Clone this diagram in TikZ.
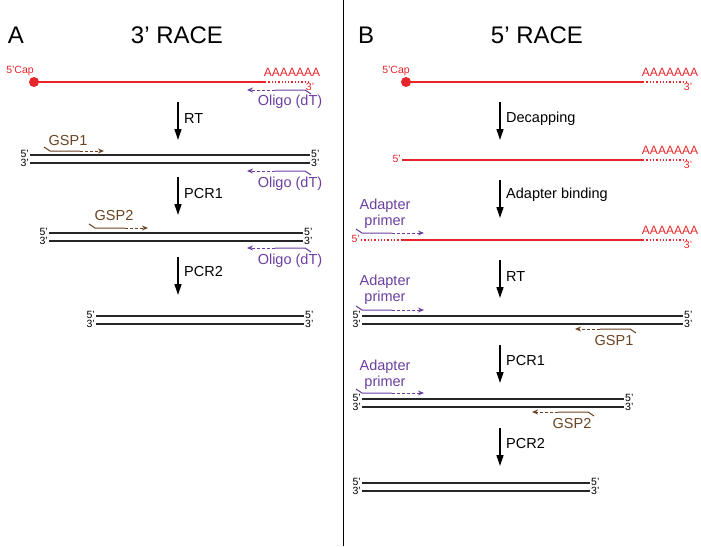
\documentclass[tikz,border=0pt]{standalone}
\usepackage{fontspec}
\setmainfont{Liberation Sans}
\usetikzlibrary{arrows.meta}
\definecolor{rna}{HTML}{E8252B}
\definecolor{purp}{HTML}{6B3FA0}
\definecolor{brn}{HTML}{6B4423}
\tikzset{
 lbl/.style={font=\fontsize{14.5}{16}\selectfont, inner sep=0pt},
 aaa/.style={font=\fontsize{12}{13}\selectfont, inner sep=0pt, text=rna},
 sm/.style={font=\fontsize{10.5}{11}\selectfont, inner sep=0pt},
 ttl/.style={font=\fontsize{24}{26}\selectfont, inner sep=0pt},
 dna/.style={line width=1.3pt, black!85},
 red/.style={line width=1.3pt, rna},
 reddot/.style={line width=1.3pt, rna, dotted},
 bigarrow/.style={line width=1.3pt, -{Triangle[length=11pt,width=7pt]}},
 pdash/.style={densely dashed, line width=1pt, -{Stealth[length=6pt,width=5pt]}},
}
\newcommand{\fwdprimer}[4]{% x y xend color
 \draw[#4, line width=1pt] (#1-6,#2-4) -- (#1,#2) -- (#1+30,#2);
 \draw[#4, pdash] (#1+30,#2) -- (#3,#2);}
\newcommand{\revprimer}[4]{% x y xend color
 \draw[#4, line width=1pt] (#1+6,#2+4) -- (#1,#2) -- (#1-30,#2);
 \draw[#4, pdash] (#1-30,#2) -- (#3,#2);}
\newcommand{\ds}[3]{% x1 x2 y
 \draw[dna] (#1,#3) -- (#2,#3);
 \draw[dna] (#1,#3+8) -- (#2,#3+8);
 \node[sm, anchor=east] at (#1-1,#3-1) {5’};
 \node[sm, anchor=east] at (#1-1,#3+8) {3’};
 \node[sm, anchor=west] at (#2+1,#3-1) {5’};
 \node[sm, anchor=west] at (#2+1,#3+8) {3’};}
\begin{document}
\begin{tikzpicture}[x=1pt,y=-1pt]
\useasboundingbox (0,0) rectangle (701,546);
\draw[line width=1pt] (343,0) -- (343,546);
% Panel A
\node[ttl] (A) at (16,35) {A};
\node[ttl] (tA) at (177,35) {3’ RACE};
\draw[red] (34,82) -- (265,82); \draw[reddot] (265,82) -- (308,82);
\fill[rna] (34,82) circle (5);
\node[sm, text=rna] at (20,71) {5’Cap};
\node[aaa] at (292,72) {AAAAAAA};
\node[sm, text=rna] at (310,87) {3’};
\revprimer{305}{90}{247}{purp}
\node[lbl, text=purp] at (290,102) {Oligo (dT)};
\draw[bigarrow] (178,102) -- (178,140); \node[lbl, anchor=west] at (184,119) {RT};
\ds{30}{310}{155}
\fwdprimer{50}{151}{104}{brn}
\node[lbl, text=brn] at (68,141) {GSP1};
\revprimer{305}{171}{247}{purp}
\node[lbl, text=purp] at (290,184) {Oligo (dT)};
\draw[bigarrow] (178,177) -- (178,215); \node[lbl, anchor=west] at (184,194) {PCR1};
\ds{49}{303}{233}
\fwdprimer{95}{228}{148}{brn}
\node[lbl, text=brn] at (114,216) {GSP2};
\revprimer{305}{248}{247}{purp}
\node[lbl, text=purp] at (290,261) {Oligo (dT)};
\draw[bigarrow] (178,257) -- (178,295); \node[lbl, anchor=west] at (184,272) {PCR2};
\ds{96}{304}{316}
% Panel B
\node[ttl] (B) at (366,35) {B};
\node[ttl] (tB) at (537,35) {5’ RACE};
\draw[red] (406,82) -- (643,82); \draw[reddot] (643,82) -- (688,82);
\fill[rna] (406,82) circle (5);
\node[sm, text=rna] at (396,71) {5’Cap};
\node[aaa] at (670,72) {AAAAAAA};
\node[sm, text=rna] at (688,87) {3’};
\draw[bigarrow] (500,102) -- (500,140); \node[lbl, anchor=west] at (506,119) {Decapping};
\draw[red] (402,160) -- (643,160); \draw[reddot] (643,160) -- (688,160);
\node[sm, text=rna, anchor=east] at (401,159) {5’};
\node[aaa] at (670,150) {AAAAAAA};
\node[sm, text=rna] at (688,165) {3’};
\draw[bigarrow] (500,180) -- (500,218); \node[lbl, anchor=west] at (506,195) {Adapter binding};
\node[lbl, text=purp, align=center] at (385,214) {Adapter\\primer};
\fwdprimer{362}{233}{424}{purp}
\draw[reddot] (361,240) -- (402,240); \draw[red] (402,240) -- (643,240); \draw[reddot] (643,240) -- (688,240);
\node[sm, text=rna, anchor=east] at (360,239) {5’};
\node[aaa] at (670,230) {AAAAAAA};
\node[sm, text=rna] at (688,245) {3’};
\draw[bigarrow] (500,260) -- (500,298); \node[lbl, anchor=west] at (506,277) {RT};
\node[lbl, text=purp, align=center] at (385,290) {Adapter\\primer};
\fwdprimer{362}{310}{424}{purp}
\ds{362}{683}{316}
\revprimer{630}{329}{575}{brn}
\node[lbl, text=brn] at (614,341) {GSP1};
\draw[bigarrow] (500,345) -- (500,383); \node[lbl, anchor=west] at (506,361) {PCR1};
\node[lbl, text=purp, align=center] at (385,375) {Adapter\\primer};
\fwdprimer{362}{393}{424}{purp}
\ds{362}{624}{399}
\revprimer{588}{412}{532}{brn}
\node[lbl, text=brn] at (572,424) {GSP2};
\draw[bigarrow] (500,428) -- (500,466); \node[lbl, anchor=west] at (506,444) {PCR2};
\ds{362}{590}{483}
\end{tikzpicture}
\end{document}
